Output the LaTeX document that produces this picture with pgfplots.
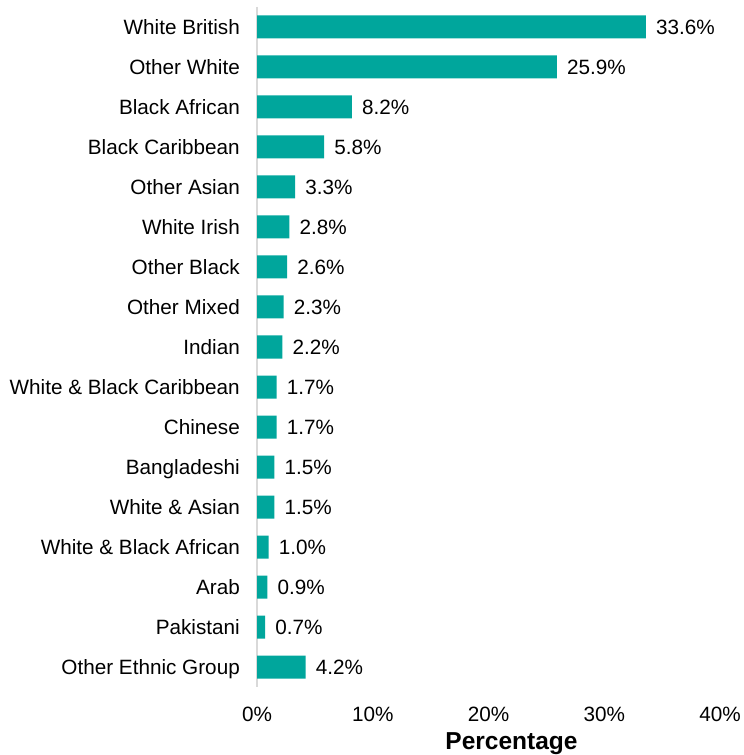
\documentclass[border=0pt]{standalone}
\usepackage{pgfplots}
\pgfplotsset{compat=1.18}
\usepackage{fontspec}
\setmainfont{Liberation Sans}
\definecolor{barteal}{RGB}{0,166,156}
\definecolor{axisgray}{RGB}{217,217,217}
\begin{document}
\begin{tikzpicture}[x=1bp,y=1bp]
\useasboundingbox (0,0) rectangle (744,755);
\begin{axis}[
    at={(257bp,68bp)}, anchor=south west,
    scale only axis, width=463bp, height=680bp,
    xbar, bar width=23bp, bar shift=0pt,
    xmin=0, xmax=40, ymin=-0.5, ymax=16.5, y dir=reverse,
    axis x line=bottom, axis y line=left,
    x axis line style={draw=none},
    y axis line style={-, draw=axisgray, line width=1.5bp},
    major tick length=0pt,
    /pgf/number format/assume math mode=true,
    xtick={0,10,20,30,40},
    xticklabels={0\%,10\%,20\%,30\%,40\%},
    ytick={0,...,16},
    yticklabels={White British,Other White,Black African,Black Caribbean,Other Asian,White Irish,Other Black,Other Mixed,Indian,White \& Black Caribbean,Chinese,Bangladeshi,White \& Asian,White \& Black African,Arab,Pakistani,Other Ethnic Group},
    ticklabel style={font=\fontsize{20.7bp}{24bp}\selectfont},
    yticklabel style={anchor=mid east, inner sep=0pt, xshift=-17bp, yshift=-5bp},
    xticklabel style={anchor=north, inner sep=0pt, yshift=-20bp},
    xlabel={Percentage},
    xlabel style={font=\fontsize{24.5bp}{28bp}\selectfont\bfseries, at={(axis description cs:0.5,0)}, anchor=base, inner sep=0pt, xshift=23bp, yshift=-62bp},
    nodes near coords={\pgfmathprintnumber[fixed,precision=1,fixed zerofill]{\pgfplotspointmeta}\%},
    nodes near coords style={font=\fontsize{20.7bp}{24bp}\selectfont, anchor=mid west, inner sep=0pt, xshift=10bp, yshift=-5bp, text=black},
]
\addplot[fill=barteal, draw=none] coordinates {
    (33.6,0) (25.9,1) (8.2,2) (5.8,3) (3.3,4) (2.8,5) (2.6,6) (2.3,7) (2.2,8)
    (1.7,9) (1.7,10) (1.5,11) (1.5,12) (1.0,13) (0.9,14) (0.7,15) (4.2,16)
};
\end{axis}
\end{tikzpicture}
\end{document}
